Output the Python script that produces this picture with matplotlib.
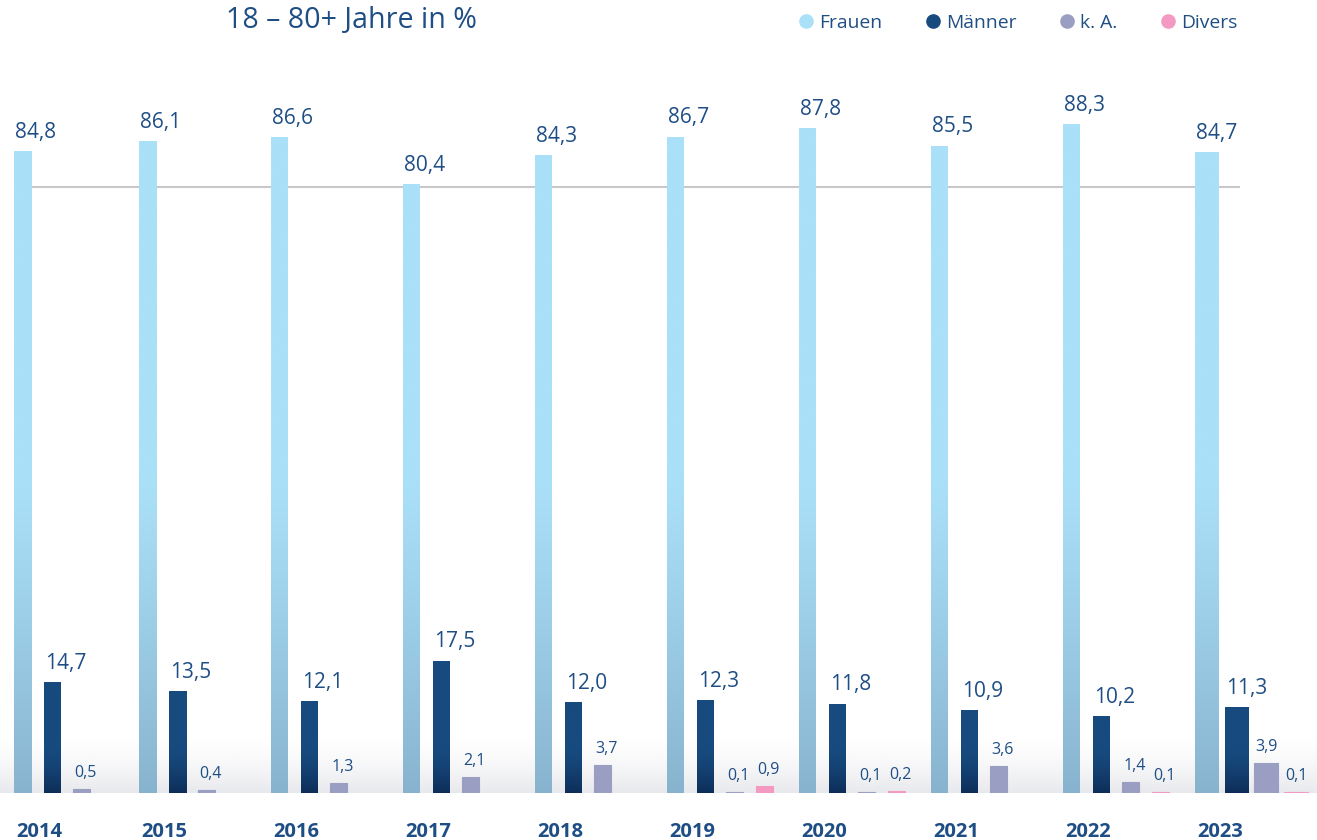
import numpy as np
import matplotlib
matplotlib.use("Agg")
import matplotlib.pyplot as plt
from matplotlib.colors import to_rgb
from matplotlib.lines import Line2D

plt.rcParams['font.family'] = ['Open Sans', 'DejaVu Sans']

years = ["2014", "2015", "2016", "2017", "2018", "2019", "2020", "2021", "2022", "2023"]
frauen = [84.8, 86.1, 86.6, 80.4, 84.3, 86.7, 87.8, 85.5, 88.3, 84.7]
maenner = [14.7, 13.5, 12.1, 17.5, 12.0, 12.3, 11.8, 10.9, 10.2, 11.3]
k_a = [0.5, 0.4, 1.3, 2.1, 3.7, 0.1, 0.1, 3.6, 1.4, 3.9]
divers = [None, None, None, None, None, 0.9, 0.2, None, 0.1, 0.1]
series_names = ["Frauen", "Männer", "k. A.", "Divers"]
title = "18 – 80+ Jahre in %"

text_col = "#1F4E85"
colors = ["#AAE0F8", "#174A7E", "#9A9EC2", "#F49AC2"]
bottom_colors = ["#88B3CE", "#0D2D58", "#9A9EC2", "#F49AC2"]
grad_start = [42, 6, 0, 0]
grad_exp = [1.2, 1.6, 1, 1]

W, H, DPI = 1317, 840, 100
fig = plt.figure(figsize=(W / DPI, H / DPI), dpi=DPI)
# 1 group = 132 px, group 0 at 7 px, baseline at 793 px, 7.571 px per %
px_group = 132.0
xlim = (-7 / px_group, (W - 7) / px_group)
ylim = (0, 793 / 7.571)
ax = fig.add_axes([0, 47 / H, 1, 793 / H])
ax.axis("off")

step = 29.6 / px_group
widths = [17 / px_group] * (len(years) - 1) + [24 / px_group]
x = np.arange(len(years), dtype=float)
x[0] += 7 / px_group  # first group sits a bit closer to the second one

# light floor shadow
floor = np.linspace(1, 0, 64)
floor_rgba = np.zeros((64, 1, 4))
floor_rgba[..., :3] = to_rgb("#E8E9ED")
floor_rgba[:, 0, 3] = floor ** 1.5
ax.imshow(floor_rgba, extent=[xlim[0], xlim[1], 0, 7.5],
          origin="lower", aspect="auto", zorder=0, interpolation="bilinear")

# reference line
ax.plot([x[0] + 17 / px_group, (1240 - 7) / px_group], [80, 80],
        color="#C8C8C8", lw=1.5, zorder=1, solid_capstyle="butt")


def gradient_bar(patch, j):
    x0, y0 = patch.get_x(), patch.get_y()
    w, h = patch.get_width(), patch.get_height()
    ys = np.linspace(0, h, 200)
    t = np.clip((grad_start[j] - ys) / grad_start[j], 0, 1) ** grad_exp[j]
    top, bot = np.array(to_rgb(colors[j])), np.array(to_rgb(bottom_colors[j]))
    img = top[None, :] * (1 - t[:, None]) + bot[None, :] * t[:, None]
    im = ax.imshow(img[:, None, :], extent=[x0, x0 + w, y0, y0 + h], origin="lower",
                   aspect="auto", zorder=3, interpolation="bilinear")
    im.set_clip_path(patch)


for j, vals in enumerate([frauen, maenner, k_a, divers]):
    for i, v in enumerate(vals):
        if v is None:
            continue
        left = x[i] + j * step
        bar = ax.bar(left, v, width=widths[i], align="edge", color=colors[j],
                     edgecolor=colors[j], linewidth=0.8 if j >= 2 else 0, zorder=2)[0]
        if j < 2:
            gradient_bar(bar, j)
        big = j < 2
        ax.annotate(f"{v:.1f}".replace(".", ","), (left, v), xytext=(1, 9.5 if big else 8.8),
                    textcoords="offset points", ha="left", va="baseline",
                    fontsize=15 if big else 11.5, color=text_col, zorder=5)

ax.set_xlim(*xlim)
ax.set_ylim(*ylim)

for i, yr in enumerate(years):
    ax.annotate(yr, (x[i], 0), xytext=(1.5, -31.5), textcoords="offset points",
                ha="left", va="baseline", fontsize=14.5, fontweight="bold",
                color=text_col, annotation_clip=False)

fig.text(226 / W, 1 - 28 / H, title, fontsize=20.6, color=text_col, va="baseline", ha="left")

# legend
leg_marker_x = [806, 933, 1067, 1168]
for j, name in enumerate(series_names):
    mx = leg_marker_x[j]
    fig.add_artist(Line2D([mx / W], [1 - 21 / H], marker="o", markersize=9.5,
                          color=colors[j], linestyle="none", transform=fig.transFigure))
    fig.text((mx + 13) / W, 1 - 28 / H, name, fontsize=13.9, color=text_col,
             va="baseline", ha="left")

fig.savefig("out.png", dpi=DPI)
